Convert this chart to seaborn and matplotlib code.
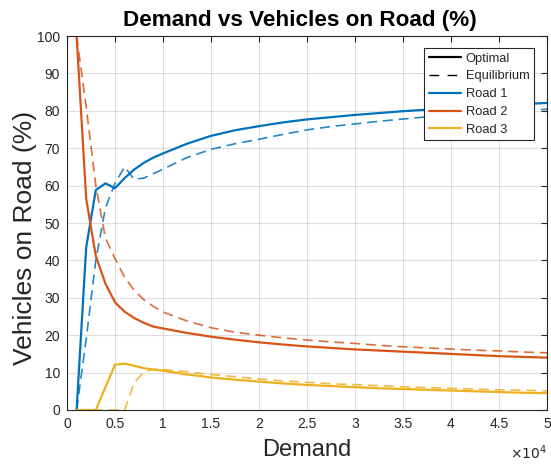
import numpy as np
import pandas as pd
import matplotlib
matplotlib.use("Agg")
import matplotlib.pyplot as plt
from matplotlib.lines import Line2D
import seaborn as sns

demand = [1000, 2000, 3000, 4000, 5000, 6000, 7000, 8000, 9000, 10000,
          12500, 15000, 17500, 20000, 22500, 25000, 27500, 30000, 32500,
          35000, 37500, 40000, 42500, 45000, 47500, 50000]

road1_opt = [0, 43.5, 58.8, 60.6, 59.3, 62.0, 64.3, 66.1, 67.5, 68.6,
             71.2, 73.3, 74.8, 75.9, 76.9, 77.7, 78.3, 78.9, 79.4,
             79.9, 80.3, 80.7, 81.1, 81.5, 81.8, 82.1]
road2_opt = [100, 56.5, 41.2, 33.8, 28.8, 26.3, 24.6, 23.3, 22.3, 21.8,
             20.6, 19.6, 18.8, 18.1, 17.5, 17.0, 16.6, 16.2, 15.9,
             15.6, 15.3, 15.0, 14.7, 14.4, 14.2, 14.0]
road3_opt = [0, 0, 0, 6.1, 12.1, 12.4, 11.8, 11.2, 10.8, 10.5,
             9.5, 8.7, 8.1, 7.6, 7.1, 6.7, 6.4, 6.1, 5.8,
             5.6, 5.4, 5.2, 5.0, 4.8, 4.6, 4.5]

road1_eq = [0, 19.0, 40.0, 54.0, 60.6, 65.0, 61.7, 62.0, 63.2, 64.4,
            67.5, 69.7, 71.2, 72.4, 73.7, 74.9, 75.8, 76.5, 77.2,
            77.8, 78.4, 78.9, 79.4, 79.8, 80.1, 80.4]
road2_eq = [100, 81.0, 60.0, 46.0, 40.5, 35.5, 32.0, 29.5, 27.7, 26.2,
            23.8, 22.0, 20.8, 20.0, 19.3, 18.7, 18.2, 17.8, 17.3,
            16.9, 16.6, 16.3, 16.0, 15.8, 15.5, 15.3]
road3_eq = [0, 0, 0, 0, 0, 0, 7.3, 10.2, 10.9, 10.8,
            10.2, 9.5, 8.9, 8.3, 7.8, 7.4, 7.0, 6.8, 6.5,
            6.2, 6.0, 5.8, 5.6, 5.4, 5.3, 5.1]

roads = ["Road 1", "Road 2", "Road 3"]
types = ["Optimal", "Equilibrium"]
colors = ["#0072BD", "#D95319", "#EDB120"]
x_ticks = [0, 5000, 10000, 15000, 20000, 25000, 30000, 35000, 40000, 45000, 50000]
y_ticks = [0, 10, 20, 30, 40, 50, 60, 70, 80, 90, 100]

series = {
    ("Road 1", "Optimal"): road1_opt, ("Road 2", "Optimal"): road2_opt,
    ("Road 3", "Optimal"): road3_opt, ("Road 1", "Equilibrium"): road1_eq,
    ("Road 2", "Equilibrium"): road2_eq, ("Road 3", "Equilibrium"): road3_eq,
}
rows = []
for (road, typ), vals in series.items():
    for d, v in zip(demand, vals):
        rows.append({"Demand": d, "Share": v, "Road": road, "Type": typ})
df = pd.DataFrame(rows)

sns.set_style("white")
plt.rcParams['font.family'] = ['Liberation Sans', 'DejaVu Sans']

fig = plt.figure(figsize=(5.51, 4.69), dpi=100)
ax = fig.add_axes([0.1216, 0.1258, 0.8711, 0.7974])

dash = (6, 3.5)
sns.lineplot(data=df, x="Demand", y="Share", hue="Road", style="Type",
             hue_order=roads, style_order=types, palette=colors,
             dashes={"Optimal": "", "Equilibrium": dash},
             linewidth=1.6, legend=False, ax=ax, estimator=None, sort=False)
for ln in ax.get_lines():
    if ln.get_linestyle() != '-':
        ln.set_linewidth(1.2)
        ln.set_alpha(0.85)

ax.set_xlim(0, 50000)
ax.set_ylim(0, 100)
ax.set_xticks(x_ticks)
ax.set_xticklabels([f"{t/1e4:g}" for t in x_ticks])
ax.set_yticks(y_ticks)
ax.grid(True, color="#262626", alpha=0.15, linewidth=0.8)
ax.tick_params(direction="in", length=4, width=0.8, colors="#262626",
               labelsize=10, top=True, right=True, pad=5)
for s in ax.spines.values():
    s.set_color("#262626")
    s.set_linewidth(0.8)

ax.set_xlabel("Demand", fontsize=17, color="#262626", labelpad=6)
ax.set_ylabel("Vehicles on Road (%)", fontsize=19, color="#262626")
ax.yaxis.set_label_coords(-0.062, 0.46)
ax.set_title("Demand vs Vehicles on Road (%)", fontsize=16.2, fontweight="bold",
             color="black", pad=7, x=0.485)
ax.text(1.0, -0.115, r"$\times10^{4}$", transform=ax.transAxes, ha="right",
        va="center", fontsize=10, color="#262626")

handles = [Line2D([], [], color="black", lw=1.6, ls="-"),
           Line2D([], [], color="black", lw=1.0, ls=(0, (7, 6))),
           Line2D([], [], color=colors[0], lw=1.6),
           Line2D([], [], color=colors[1], lw=1.6),
           Line2D([], [], color=colors[2], lw=1.6)]
labels = ["Optimal", "Equilibrium", "Road 1", "Road 2", "Road 3"]
leg = ax.legend(handles, labels, loc="upper right", bbox_to_anchor=(0.973, 0.968),
                fontsize=9.3, frameon=True, fancybox=False, framealpha=1,
                edgecolor="#262626", handlelength=2.5, labelspacing=0.45,
                borderpad=0.35, handletextpad=0.35, borderaxespad=0)
leg.get_frame().set_linewidth(0.8)

fig.savefig("out.png", dpi=100)
